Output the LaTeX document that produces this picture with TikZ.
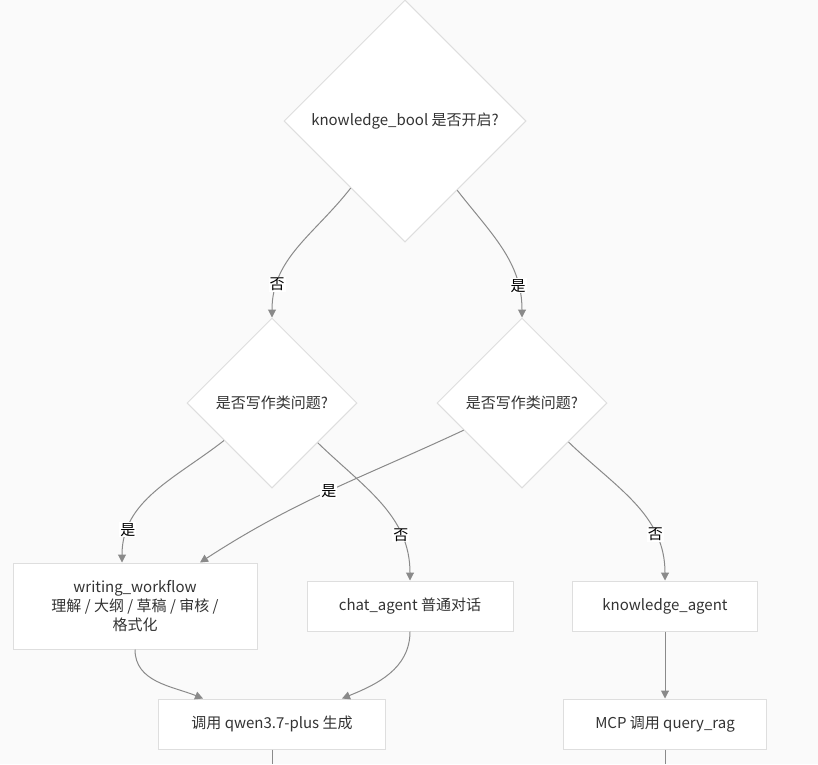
\documentclass[tikz,border=0pt]{standalone}
\usepackage{fontspec}
\setmainfont{Noto Sans CJK SC}
\usetikzlibrary{arrows.meta,positioning,calc,shapes.geometric}
\definecolor{fcbg}{HTML}{FAFAFA}
\definecolor{fcline}{HTML}{DEDEDE}
\definecolor{fcedge}{HTML}{8A8A8A}
\definecolor{fctext}{HTML}{333333}

\begin{document}
\begin{tikzpicture}[
  x=1pt, y=1pt,
  box/.style={
    draw=fcline, line width=1pt, fill=white,
    font=\fontsize{15}{19}\selectfont, text=fctext,
    align=center, inner sep=0pt, minimum height=50pt
  },
  decision/.style={
    diamond, aspect=1, draw=fcline, line width=1pt, fill=white,
    font=\fontsize{15}{19}\selectfont, text=fctext, inner sep=0pt
  },
  edgelbl/.style={fill=white, inner sep=1pt, font=\fontsize{15}{18}\selectfont, text=black},
  arrow/.style={-{Triangle[length=8pt,width=8pt]}, fcedge, line width=1pt},
  exitline/.style={fcedge, line width=1pt},
]

  % Lienzo
  \fill[fcbg] (0,0) rectangle (818,-764);
  \useasboundingbox (0,0) rectangle (818,-764);

  % Decisiones
  \node[decision, minimum width=242pt, minimum height=242pt] (kbool) at (405,-121) {knowledge\_bool 是否开启?};
  \node[decision, minimum width=170pt, minimum height=170pt] (wq1) at (272,-403) {是否写作类问题?};
  \node[decision, minimum width=170pt, minimum height=170pt] (wq2) at (522,-403) {是否写作类问题?};

  % Agentes
  \node[box, minimum width=244pt, minimum height=86pt] (wflow) at (135,-606)
    {writing\_workflow\\理解 / 大纲 / 草稿 / 审核 /\\格式化};
  \node[box, minimum width=206pt] (chat) at (410,-606) {chat\_agent 普通对话};
  \node[box, minimum width=185pt] (kagent) at (665,-606) {knowledge\_agent};

  % Llamadas
  \node[box, minimum width=227pt] (qwen) at (272,-724) {调用 qwen3.7-plus 生成};
  \node[box, minimum width=203pt] (mcp) at (665,-724) {MCP 调用 query\_rag};

  % Salidas fuera del lienzo
  \coordinate (qwenout) at (272,-764);
  \coordinate (mcpout) at (665,-764);

  % Ramas de la primera decision
  \draw[arrow] (kbool.231) to[out=232, in=90] node[edgelbl, pos=0.79] {否} (wq1.north);
  \draw[arrow] (kbool.307) to[out=-52, in=90] node[edgelbl, pos=0.79] {是} (wq2.north);

  % Ramas de las decisiones de escritura
  \draw[arrow] (wq1.218) to[out=218, in=90] node[edgelbl, pos=0.8] {是} ([xshift=-13pt]wflow.north);
  \draw[arrow] (wq1.319) to[out=-44, in=90] node[edgelbl, pos=0.73] {否} (chat.north);
  \draw[arrow] (wq2.205) to[out=205, in=33] node[edgelbl, pos=0.5] {是} ([xshift=65pt]wflow.north);
  \draw[arrow] (wq2.320) to[out=-44, in=90] node[edgelbl, pos=0.73] {否} (kagent.north);

  % Hacia las llamadas
  \draw[arrow] (wflow.south) to[out=-90, in=158] ([xshift=-69pt]qwen.north);
  \draw[arrow] (chat.south) to[out=-90, in=22] ([xshift=70pt]qwen.north);
  \draw[arrow] (kagent) -- (mcp);

  \draw[exitline] (qwen.south) -- (qwenout);
  \draw[exitline] (mcp.south) -- (mcpout);

\end{tikzpicture}
\end{document}
